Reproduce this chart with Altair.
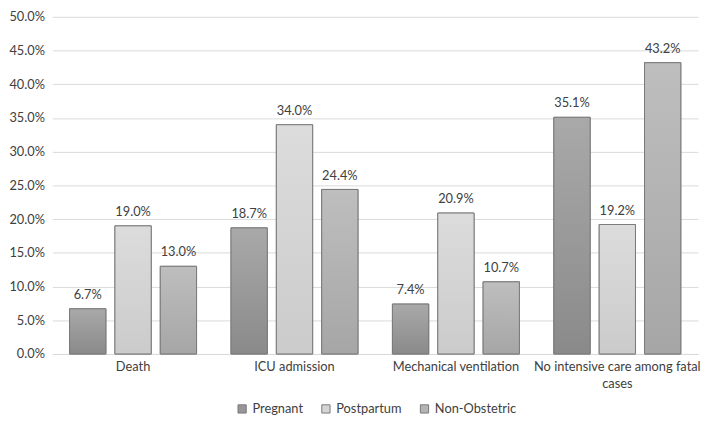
import altair as alt
import pandas as pd

categories = ["Death", "ICU admission", "Mechanical ventilation", "No intensive care among fatal cases"]
series = ["Pregnant", "Postpartum", "Non-Obstetric"]
pregnant = [6.7, 18.7, 7.4, 35.1]
postpartum = [19.0, 34.0, 20.9, 19.2]
non_obstetric = [13.0, 24.4, 10.7, 43.2]

rows = []
for s, vals in zip(series, [pregnant, postpartum, non_obstetric]):
    for c, v in zip(categories, vals):
        rows.append({"category": c, "series": s, "value": v / 100})
df = pd.DataFrame(rows)

flat = ["#969696", "#d5d5d5", "#b4b4b4"]
grad = {
    "Pregnant": ("#a9a9a9", "#8a8a8a"),
    "Postpartum": ("#dcdcdc", "#cbcbcb"),
    "Non-Obstetric": ("#bebebe", "#a6a6a6"),
}
FONT = "Lato"
FS = 13

x_enc = alt.X(
    "category:N",
    sort=categories,
    scale=alt.Scale(paddingInner=0, paddingOuter=0),
    axis=alt.Axis(
        title=None,
        labelAngle=0,
        labelFontSize=FS,
        labelColor="#404040",
        labelFont=FONT,
        labelPadding=7,
        ticks=False,
        domainColor="#d9d9d9",
        labelExpr="datum.label == 'No intensive care among fatal cases' ? ['No intensive care among fatal', 'cases'] : datum.label",
        labelLineHeight=17,
    ),
)
xoff = alt.XOffset(
    "series:N",
    sort=series,
    scale=alt.Scale(domain=series, paddingInner=0.2, paddingOuter=0.38),
)
y_enc = alt.Y(
    "value:Q",
    scale=alt.Scale(domain=[0, 0.5]),
    axis=alt.Axis(
        title=None,
        format=".1%",
        values=[i * 0.05 for i in range(11)],
        labelFontSize=FS,
        labelColor="#404040",
        labelFont=FONT,
        labelPadding=8,
        ticks=False,
        domain=False,
        gridColor="#d9d9d9",
    ),
)

base = alt.Chart(df).encode(x=x_enc, xOffset=xoff, y=y_enc)

legend_layer = base.mark_bar(stroke="#7a7a7a", strokeWidth=1).encode(
    color=alt.Color(
        "series:N",
        sort=series,
        scale=alt.Scale(domain=series, range=flat),
        legend=alt.Legend(
            title=None,
            orient="none",
            direction="horizontal",
            legendX=186,
            legendY=391,
            symbolType="square",
            symbolSize=70,
            symbolStrokeColor="#7a7a7a",
            symbolStrokeWidth=1,
            labelFontSize=FS,
            labelColor="#404040",
            labelFont=FONT,
            columnPadding=16,
        ),
    )
)

layers = [legend_layer]
for s in series:
    top, bot = grad[s]
    layers.append(
        base.transform_filter(alt.datum.series == s).mark_bar(
            fill=alt.Gradient(
                gradient="linear",
                stops=[alt.GradientStop(offset=0, color=top), alt.GradientStop(offset=1, color=bot)],
                x1=0, x2=0, y1=0, y2=1,
            ),
            stroke="#7a7a7a",
            strokeWidth=1,
        )
    )

text = base.mark_text(dy=-14, fontSize=FS, color="#404040", font=FONT).encode(
    text=alt.Text("value:Q", format=".1%")
)
layers.append(text)

chart = alt.layer(*layers).properties(
    width=655, height=342, padding={"left": 0, "top": 0, "right": 0, "bottom": 0}
).configure_view(stroke=None)

chart.save("out.html", embed_options={"renderer": "svg", "actions": False})
